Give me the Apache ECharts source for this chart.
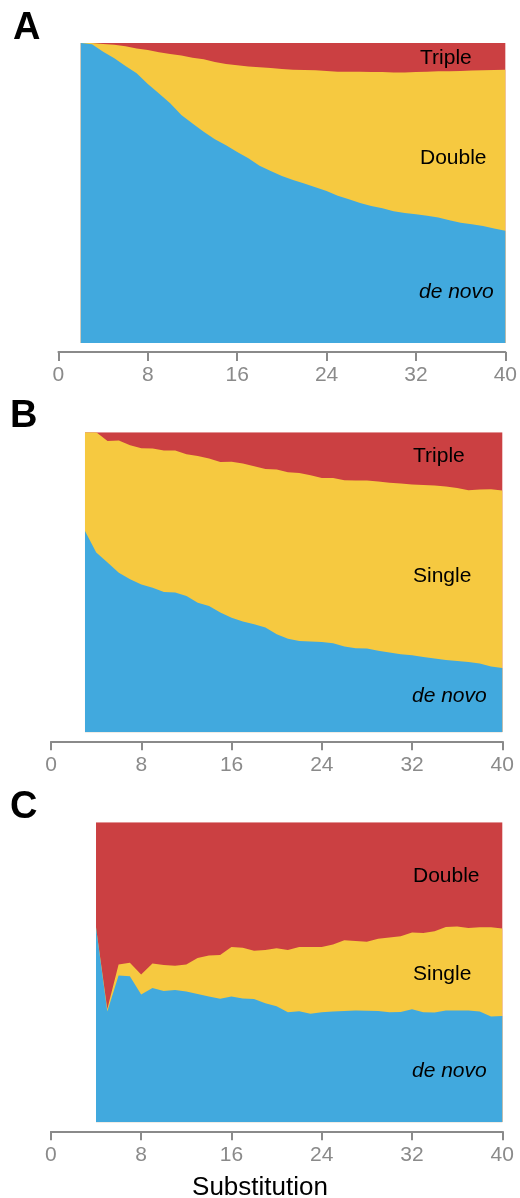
<!DOCTYPE html>
<html>
<head>
<meta charset="utf-8">
<script src="https://cdn.jsdelivr.net/npm/echarts@6/dist/echarts.min.js"></script>
<style>
html,body{margin:0;padding:0;background:#fff;}
#chart{width:520px;height:1198px;}
</style>
</head>
<body>
<div id="chart"></div>
<script>
// ---------- DATA ----------
var xTicks = [0, 8, 16, 24, 32, 40];

// Panel A (x = 2..40)
var xA = [2,3,4,5,6,7,8,9,10,11,12,13,14,15,16,17,18,19,20,21,22,23,24,25,26,27,28,29,30,31,32,33,34,35,36,37,38,39,40];
var aDeNovo = [1.000,0.996,0.971,0.949,0.923,0.899,0.863,0.832,0.799,0.760,0.732,0.704,0.679,0.659,0.637,0.616,0.591,0.573,0.557,0.543,0.532,0.519,0.507,0.491,0.479,0.467,0.457,0.449,0.439,0.433,0.429,0.424,0.418,0.409,0.401,0.396,0.390,0.382,0.374];
var aDouble = [0.000,0.004,0.026,0.045,0.066,0.083,0.114,0.137,0.164,0.198,0.219,0.242,0.258,0.271,0.289,0.306,0.328,0.344,0.356,0.368,0.378,0.390,0.400,0.413,0.425,0.437,0.446,0.454,0.463,0.469,0.474,0.480,0.488,0.497,0.506,0.512,0.519,0.528,0.537];
var aTriple = [0.000,0.000,0.003,0.006,0.011,0.018,0.023,0.031,0.037,0.042,0.049,0.054,0.063,0.070,0.074,0.078,0.081,0.083,0.087,0.089,0.090,0.091,0.093,0.096,0.096,0.096,0.097,0.097,0.098,0.098,0.097,0.096,0.094,0.094,0.093,0.092,0.091,0.090,0.089];

// Panel B (x = 3..40)
var xB = [3,4,5,6,7,8,9,10,11,12,13,14,15,16,17,18,19,20,21,22,23,24,25,26,27,28,29,30,31,32,33,34,35,36,37,38,39,40];
var bDeNovo = [0.671,0.599,0.566,0.532,0.510,0.493,0.482,0.468,0.466,0.454,0.432,0.421,0.399,0.382,0.369,0.360,0.349,0.327,0.312,0.304,0.303,0.301,0.297,0.286,0.280,0.279,0.272,0.266,0.260,0.257,0.251,0.246,0.241,0.238,0.234,0.229,0.219,0.214];
var bSingle = [0.329,0.401,0.405,0.441,0.447,0.454,0.464,0.471,0.473,0.473,0.489,0.492,0.502,0.520,0.527,0.527,0.529,0.549,0.555,0.560,0.554,0.547,0.551,0.554,0.559,0.560,0.564,0.566,0.569,0.569,0.573,0.577,0.578,0.576,0.573,0.580,0.591,0.592];
var bTriple = [0.000,0.000,0.029,0.027,0.043,0.053,0.054,0.061,0.061,0.073,0.079,0.087,0.099,0.098,0.104,0.113,0.122,0.124,0.133,0.136,0.143,0.152,0.152,0.160,0.161,0.161,0.164,0.168,0.171,0.174,0.176,0.177,0.181,0.186,0.193,0.191,0.190,0.194];

// Panel C (x = 4..40)
var xC = [4,5,6,7,8,9,10,11,12,13,14,15,16,17,18,19,20,21,22,23,24,25,26,27,28,29,30,31,32,33,34,35,36,37,38,39,40];
var cDeNovo = [0.650,0.369,0.489,0.487,0.426,0.448,0.438,0.441,0.436,0.428,0.419,0.412,0.419,0.413,0.411,0.397,0.387,0.367,0.370,0.362,0.367,0.369,0.371,0.373,0.372,0.371,0.367,0.368,0.377,0.367,0.366,0.373,0.373,0.373,0.369,0.353,0.354];
var cSingle = [0.000,0.009,0.037,0.045,0.067,0.081,0.086,0.081,0.090,0.120,0.137,0.146,0.165,0.169,0.161,0.177,0.193,0.207,0.214,0.222,0.217,0.224,0.236,0.231,0.230,0.241,0.249,0.252,0.256,0.264,0.271,0.278,0.280,0.275,0.281,0.297,0.292];
var cDouble = [0.350,0.622,0.474,0.468,0.507,0.471,0.476,0.478,0.474,0.452,0.444,0.442,0.416,0.418,0.428,0.426,0.420,0.426,0.416,0.416,0.416,0.407,0.393,0.396,0.398,0.388,0.384,0.380,0.367,0.369,0.363,0.349,0.347,0.352,0.350,0.350,0.354];

var panelLetters = ['A', 'B', 'C'];
var xAxisTitle = 'Substitution';

// ---------- STYLE ----------
var BLUE = '#41a9de', YELLOW = '#f6c940', RED = '#cb4042';
var FONT = '"Liberation Sans", Arial, Helvetica, sans-serif';
var AXIS_GRAY = '#8a8a8a';

// cumulative [x, y] pairs: layers drawn from 0 up to the running total
function cumPairs(xs, layers) {
  return xs.map(function (x, i) {
    var s = 0;
    layers.forEach(function (arr) { s += arr[i]; });
    return [x, Math.min(1, s)];
  });
}

var grids = [
  { left: 58.45, right: 10.55, top: 43, height: 300 },
  { left: 51.15, right: 17.7, top: 432.3, height: 300 },
  { left: 50.87, right: 17.7, top: 822.3, height: 300 }
];

var xAxes = grids.map(function (g, i) {
  return {
    type: 'value', gridIndex: i, min: 0, max: 40, interval: 8,
    offset: 9,
    axisLine: { show: true, onZero: false, lineStyle: { color: AXIS_GRAY, width: 2 } },
    axisTick: { show: true, length: 9, lineStyle: { color: AXIS_GRAY, width: 2 } },
    splitLine: { show: false },
    axisLabel: {
      color: AXIS_GRAY, fontSize: 21, fontFamily: FONT, margin: 13,
      formatter: function (v) { return xTicks.indexOf(v) >= 0 ? String(v) : ''; }
    }
  };
});
var yAxes = grids.map(function (g, i) {
  return { type: 'value', gridIndex: i, min: 0, max: 1, show: false };
});

function area(name, idx, data, color, z) {
  return {
    name: name, type: 'line', xAxisIndex: idx, yAxisIndex: idx,
    data: data, symbol: 'none', showSymbol: false, smooth: false,
    lineStyle: { width: 0, opacity: 0 },
    areaStyle: { color: color, opacity: 1, origin: 'start' },
    itemStyle: { color: color },
    silent: true, animation: false, z: z
  };
}

var series = [
  area('Triple', 0, cumPairs(xA, [aDeNovo, aDouble, aTriple]), RED, 2),
  area('Double', 0, cumPairs(xA, [aDeNovo, aDouble]), YELLOW, 3),
  area('de novo', 0, cumPairs(xA, [aDeNovo]), BLUE, 4),
  area('Triple', 1, cumPairs(xB, [bDeNovo, bSingle, bTriple]), RED, 2),
  area('Single', 1, cumPairs(xB, [bDeNovo, bSingle]), YELLOW, 3),
  area('de novo', 1, cumPairs(xB, [bDeNovo]), BLUE, 4),
  area('Double', 2, cumPairs(xC, [cDeNovo, cSingle, cDouble]), RED, 2),
  area('Single', 2, cumPairs(xC, [cDeNovo, cSingle]), YELLOW, 3),
  area('de novo', 2, cumPairs(xC, [cDeNovo]), BLUE, 4)
];

function txt(s, x, y, size, opts) {
  opts = opts || {};
  return {
    type: 'text', left: x, top: y, z: 100, silent: true,
    style: {
      text: s, fill: '#000', fontSize: size, fontFamily: FONT,
      fontWeight: opts.bold ? 'bold' : 'normal',
      fontStyle: opts.italic ? 'italic' : 'normal'
    }
  };
}

var LBL = 21;
var graphics = [
  txt(panelLetters[0], 13, 10, 38, { bold: true }),
  txt(panelLetters[1], 10, 398, 38, { bold: true }),
  txt(panelLetters[2], 10, 789, 38, { bold: true }),
  txt('Triple', 420, 48, LBL),
  txt('Double', 420, 148, LBL),
  txt('de novo', 419, 282, LBL, { italic: true }),
  txt('Triple', 413, 446, LBL),
  txt('Single', 413, 566, LBL),
  txt('de novo', 412, 686, LBL, { italic: true }),
  txt('Double', 413, 866, LBL),
  txt('Single', 413, 964, LBL),
  txt('de novo', 412, 1061, LBL, { italic: true }),
  {
    type: 'text', left: 'center', top: 1175, z: 100, silent: true,
    style: { text: xAxisTitle, fill: '#000', fontSize: 26, fontFamily: FONT }
  }
];

var chart = echarts.init(document.getElementById('chart'), null, { renderer: 'canvas' });
chart.setOption({
  animation: false,
  backgroundColor: '#fff',
  grid: grids,
  xAxis: xAxes,
  yAxis: yAxes,
  series: series,
  graphic: graphics
});
</script>
</body>
</html>
